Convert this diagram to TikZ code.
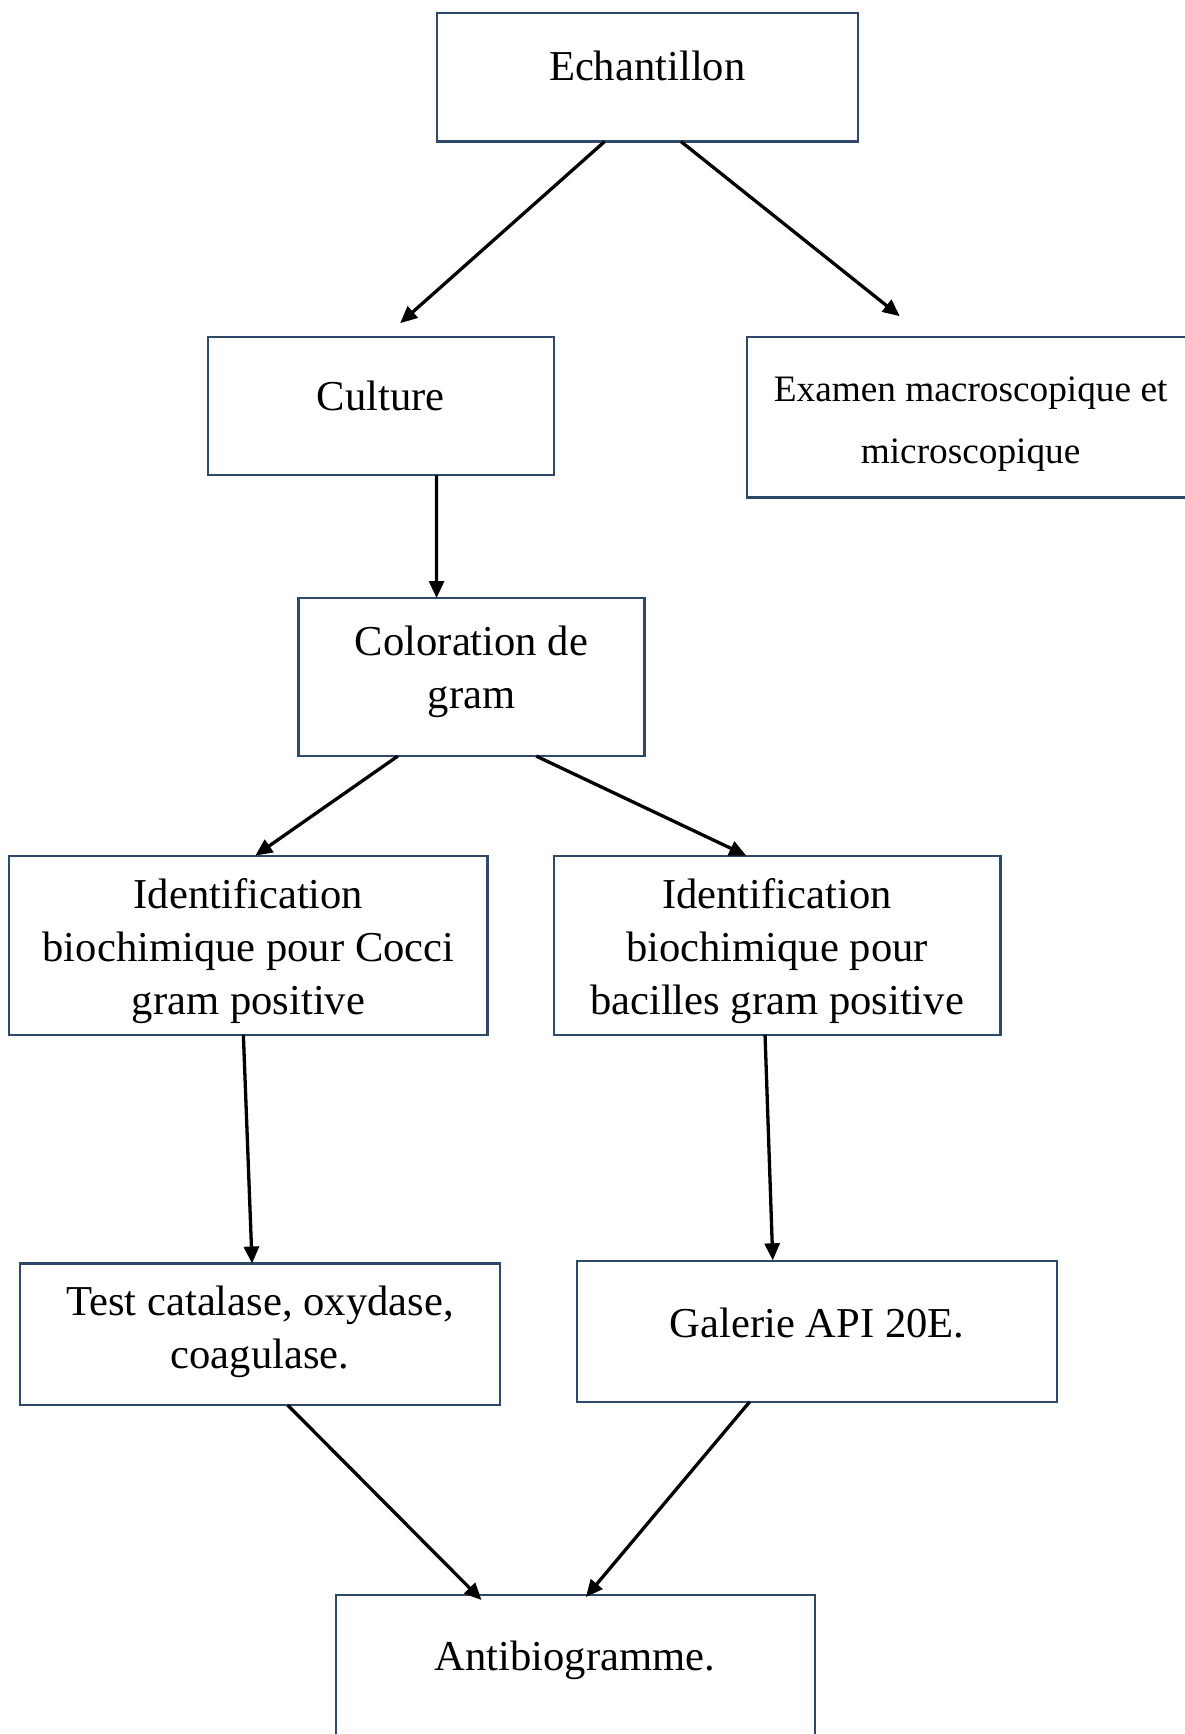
\documentclass[tikz,border=0pt]{standalone}
\usepackage{fontspec}
\setmainfont{Liberation Serif}
\usetikzlibrary{arrows.meta,calc}
\definecolor{boxline}{HTML}{2E4A68}
\tikzset{
  box/.style={draw=boxline, line width=2.2pt, rectangle, inner sep=0pt, outer sep=0pt, anchor=north west},
  txt/.style={align=center, inner sep=0pt, font=\fontsize{42.6}{53}\selectfont},
  smalltxt/.style={align=center, inner sep=0pt, font=\fontsize{37.3}{62}\selectfont},
  arr/.style={draw=black, line width=3.3pt, -{Triangle[length=17pt,width=15pt]}}
}
\begin{document}
\begin{tikzpicture}[x=1pt,y=1pt]
\useasboundingbox (0,0) rectangle (1185,-1734);
\clip (0,0) rectangle (1185,-1734);
% boxes
\node[box, minimum width=421.2pt, minimum height=128.2pt] (ech) at (436.6,-13.3) {};
\node[box, minimum width=346pt, minimum height=138.1pt] (cul) at (207.8,-337.2) {};
\node[box, minimum width=446.7pt, minimum height=160.2pt] (exa) at (747.3,-337.2) {};
\node[box, minimum width=346pt, minimum height=158.1pt] (col) at (298.5,-598) {};
\node[box, minimum width=478.7pt, minimum height=179.1pt] (coc) at (8.8,-855.6) {};
\node[box, minimum width=446.6pt, minimum height=179.1pt] (bac) at (553.8,-855.6) {};
\node[box, minimum width=479.7pt, minimum height=141.5pt] (tst) at (19.9,-1263.5) {};
\node[box, minimum width=479.8pt, minimum height=140.4pt] (gal) at (577,-1261.3) {};
\node[box, minimum width=478.7pt, minimum height=170pt] (ant) at (336,-1595) {};
% texts
\node[txt] (tech) at (647.2,-66.3) {Echantillon};
\node[txt] (tcul) at (380.8,-396) {Culture};
\node[smalltxt] (texa) at (970.6,-424.5) {Examen macroscopique et\\microscopique};
\node[txt] (tcol) at (471.5,-671.5) {Coloration de\\gram};
\node[txt] (tcoc) at (248.5,-950.6) {Identification\\biochimique pour Cocci\\gram positive};
\node[txt] (tbac) at (777,-950.6) {Identification\\biochimique pour\\bacilles gram positive};
\node[txt] (ttst) at (260,-1332) {Test catalase, oxydase,\\coagulase.};
\node[txt] (tgal) at (817,-1323) {Galerie API 20E.};
\node[txt] (tant) at (575,-1660) {Antibiogramme.};
% connectors
\draw[arr] ($(ech.south west)!0.399!(ech.south east)$) -- ($(cul.north west)!0.556!(cul.north east)+(0,14)$);
\draw[arr] ($(ech.south west)!0.58!(ech.south east)$) -- ($(exa.north west)+(152.5,21)$);
\draw[arr] ($(cul.south west)!0.661!(cul.south east)$) -- ($(col.north west)!0.399!(col.north east)$);
\draw[arr] ($(col.south west)!0.287!(col.south east)$) -- ($(coc.north west)!0.515!(coc.north east)$);
\draw[arr] ($(col.south west)!0.687!(col.south east)$) -- ($(bac.north west)!0.431!(bac.north east)$);
\draw[arr] ($(coc.south west)!0.490!(coc.south east)$) -- ($(tst.north west)!0.484!(tst.north east)$);
\draw[arr] ($(bac.south west)!0.473!(bac.south east)$) -- ($(gal.north west)!0.408!(gal.north east)+(0,1)$);
\draw[arr] ($(tst.south west)!0.558!(tst.south east)$) -- ($(ant.north west)!0.304!(ant.north east)+(0,-5)$);
\draw[arr] ($(gal.south west)!0.36!(gal.south east)$) -- ($(ant.north west)!0.522!(ant.north east)+(0,-2)$);
\end{tikzpicture}
\end{document}
